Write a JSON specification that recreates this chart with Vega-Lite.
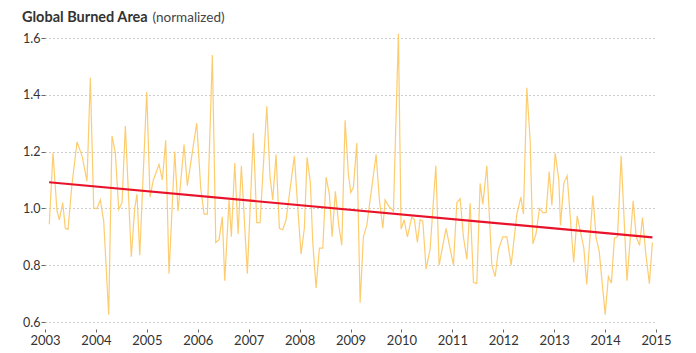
{
  "$schema": "https://vega.github.io/schema/vega-lite/v6.json",
  "width": 611,
  "height": 284,
  "autosize": "none",
  "padding": {"left": 45, "top": 38, "right": 40, "bottom": 31},
  "background": "white",
  "config": {
    "font": "Lato",
    "view": {"stroke": null},
    "title": {"font": "Lato", "fontSize": 14.5, "fontWeight": "bold", "color": "#333333"}
  },
  "title": {"text": "Global Burned Area", "anchor": "start", "frame": "group", "dx": -23, "offset": -26.5, "baseline": "alphabetic"},
  "datasets": {
    "burn": [
      {"t": 2003.084, "v": 0.944}, {"t": 2003.157, "v": 1.196}, {"t": 2003.236, "v": 0.99}, {"t": 2003.281, "v": 0.96},
      {"t": 2003.348, "v": 1.02}, {"t": 2003.399, "v": 0.93}, {"t": 2003.452, "v": 0.926}, {"t": 2003.530, "v": 1.085},
      {"t": 2003.629, "v": 1.234}, {"t": 2003.727, "v": 1.185}, {"t": 2003.825, "v": 1.096}, {"t": 2003.890, "v": 1.46},
      {"t": 2003.957, "v": 1.0}, {"t": 2004.022, "v": 1.0}, {"t": 2004.086, "v": 1.03}, {"t": 2004.153, "v": 0.955},
      {"t": 2004.251, "v": 0.626}, {"t": 2004.316, "v": 1.255}, {"t": 2004.381, "v": 1.196}, {"t": 2004.448, "v": 0.996},
      {"t": 2004.513, "v": 1.02}, {"t": 2004.578, "v": 1.29}, {"t": 2004.695, "v": 0.83}, {"t": 2004.762, "v": 1.0},
      {"t": 2004.807, "v": 1.05}, {"t": 2004.861, "v": 0.835}, {"t": 2004.998, "v": 1.41}, {"t": 2005.063, "v": 1.04},
      {"t": 2005.128, "v": 1.10}, {"t": 2005.240, "v": 1.155}, {"t": 2005.305, "v": 1.10}, {"t": 2005.371, "v": 1.24},
      {"t": 2005.436, "v": 0.77}, {"t": 2005.548, "v": 1.2}, {"t": 2005.613, "v": 0.99}, {"t": 2005.731, "v": 1.225},
      {"t": 2005.796, "v": 1.08}, {"t": 2005.862, "v": 1.16}, {"t": 2005.980, "v": 1.30}, {"t": 2006.059, "v": 1.07},
      {"t": 2006.124, "v": 0.98}, {"t": 2006.189, "v": 0.98}, {"t": 2006.287, "v": 1.54}, {"t": 2006.354, "v": 0.88},
      {"t": 2006.418, "v": 0.89}, {"t": 2006.483, "v": 0.97}, {"t": 2006.530, "v": 0.745}, {"t": 2006.615, "v": 1.03},
      {"t": 2006.660, "v": 0.90}, {"t": 2006.727, "v": 1.16}, {"t": 2006.792, "v": 0.91}, {"t": 2006.857, "v": 1.15},
      {"t": 2006.974, "v": 0.77}, {"t": 2007.092, "v": 1.265}, {"t": 2007.159, "v": 0.95}, {"t": 2007.224, "v": 0.95},
      {"t": 2007.356, "v": 1.36}, {"t": 2007.420, "v": 1.11}, {"t": 2007.473, "v": 1.03}, {"t": 2007.538, "v": 1.19},
      {"t": 2007.603, "v": 0.93}, {"t": 2007.670, "v": 0.925}, {"t": 2007.735, "v": 0.96}, {"t": 2007.898, "v": 1.185},
      {"t": 2007.965, "v": 1.0}, {"t": 2008.029, "v": 0.84}, {"t": 2008.094, "v": 0.93}, {"t": 2008.147, "v": 1.18},
      {"t": 2008.212, "v": 1.09}, {"t": 2008.259, "v": 0.88}, {"t": 2008.324, "v": 0.72}, {"t": 2008.389, "v": 0.86},
      {"t": 2008.456, "v": 0.86}, {"t": 2008.521, "v": 1.11}, {"t": 2008.585, "v": 1.05}, {"t": 2008.639, "v": 0.90},
      {"t": 2008.703, "v": 1.06}, {"t": 2008.770, "v": 0.94}, {"t": 2008.829, "v": 0.87}, {"t": 2008.894, "v": 1.31},
      {"t": 2008.959, "v": 1.12}, {"t": 2009.006, "v": 1.056}, {"t": 2009.057, "v": 1.074}, {"t": 2009.124, "v": 1.23},
      {"t": 2009.189, "v": 0.668}, {"t": 2009.253, "v": 0.9}, {"t": 2009.320, "v": 0.94}, {"t": 2009.503, "v": 1.19},
      {"t": 2009.568, "v": 1.03}, {"t": 2009.635, "v": 0.93}, {"t": 2009.680, "v": 1.03}, {"t": 2009.745, "v": 1.01},
      {"t": 2009.843, "v": 0.99}, {"t": 2009.941, "v": 1.615}, {"t": 2009.994, "v": 0.927}, {"t": 2010.053, "v": 0.96},
      {"t": 2010.118, "v": 0.9}, {"t": 2010.204, "v": 0.97}, {"t": 2010.255, "v": 0.96}, {"t": 2010.314, "v": 0.88},
      {"t": 2010.367, "v": 0.96}, {"t": 2010.420, "v": 0.955}, {"t": 2010.485, "v": 0.786}, {"t": 2010.564, "v": 0.857},
      {"t": 2010.676, "v": 1.15}, {"t": 2010.741, "v": 0.8}, {"t": 2010.813, "v": 0.87}, {"t": 2010.878, "v": 0.93},
      {"t": 2010.943, "v": 0.87}, {"t": 2011.022, "v": 0.8}, {"t": 2011.088, "v": 1.02}, {"t": 2011.153, "v": 1.034},
      {"t": 2011.218, "v": 0.9}, {"t": 2011.285, "v": 0.82}, {"t": 2011.350, "v": 1.018}, {"t": 2011.415, "v": 0.74},
      {"t": 2011.481, "v": 0.735}, {"t": 2011.546, "v": 1.088}, {"t": 2011.599, "v": 1.014}, {"t": 2011.678, "v": 1.15},
      {"t": 2011.776, "v": 0.8}, {"t": 2011.841, "v": 0.76}, {"t": 2011.906, "v": 0.855}, {"t": 2011.992, "v": 0.9},
      {"t": 2012.071, "v": 0.9}, {"t": 2012.155, "v": 0.8}, {"t": 2012.267, "v": 0.98}, {"t": 2012.346, "v": 1.04},
      {"t": 2012.397, "v": 0.98}, {"t": 2012.463, "v": 1.425}, {"t": 2012.528, "v": 1.24}, {"t": 2012.582, "v": 0.875},
      {"t": 2012.646, "v": 0.913}, {"t": 2012.711, "v": 1.0}, {"t": 2012.778, "v": 0.985}, {"t": 2012.843, "v": 0.985},
      {"t": 2012.902, "v": 1.13}, {"t": 2012.955, "v": 1.01}, {"t": 2013.020, "v": 1.195}, {"t": 2013.092, "v": 1.1},
      {"t": 2013.124, "v": 0.94}, {"t": 2013.190, "v": 1.09}, {"t": 2013.255, "v": 1.115}, {"t": 2013.383, "v": 0.81},
      {"t": 2013.452, "v": 0.974}, {"t": 2013.583, "v": 0.86}, {"t": 2013.639, "v": 0.732}, {"t": 2013.760, "v": 1.045},
      {"t": 2013.825, "v": 0.895}, {"t": 2013.884, "v": 0.85}, {"t": 2014.002, "v": 0.626}, {"t": 2014.065, "v": 0.76},
      {"t": 2014.124, "v": 0.737}, {"t": 2014.183, "v": 0.895}, {"t": 2014.244, "v": 0.9}, {"t": 2014.316, "v": 1.185},
      {"t": 2014.430, "v": 0.745}, {"t": 2014.552, "v": 1.027}, {"t": 2014.611, "v": 0.9}, {"t": 2014.676, "v": 0.87},
      {"t": 2014.735, "v": 0.968}, {"t": 2014.798, "v": 0.843}, {"t": 2014.870, "v": 0.735}, {"t": 2014.929, "v": 0.88}
    ],
    "trend": [
      {"t": 2003.08, "v": 1.092},
      {"t": 2014.93, "v": 0.898}
    ]
  },
  "encoding": {
    "x": {
      "field": "t", "type": "quantitative",
      "scale": {"domain": [2003, 2015], "nice": false, "zero": false},
      "axis": {
        "values": [2003, 2004, 2005, 2006, 2007, 2008, 2009, 2010, 2011, 2012, 2013, 2014, 2015],
        "format": "d", "title": null, "grid": false, "domain": false,
        "ticks": true, "tickSize": 3, "tickColor": "#666666", "offset": 7,
        "labelFontSize": 13, "labelColor": "#333333", "labelPadding": 2, "labelFlush": false, "labelFont": "Lato"
      }
    },
    "y": {
      "field": "v", "type": "quantitative",
      "scale": {"domain": [0.6, 1.6], "nice": false, "zero": false},
      "axis": {
        "values": [0.6, 0.8, 1.0, 1.2, 1.4, 1.6],
        "format": ".1f", "grid": true, "gridDash": [1, 3], "gridColor": "#9a9a9a", "gridWidth": 1,
        "domain": false, "tickSize": 4, "tickColor": "#666666", "labelPadding": 1,
        "labelFontSize": 12.5, "labelColor": "#333333", "labelFont": "Lato",
        "title": "(normalized)", "titleAngle": 0, "titleAlign": "left", "titleBaseline": "alphabetic",
        "titleX": 107, "titleY": -17, "titleFont": "Lato", "titleFontSize": 13.5, "titleFontWeight": "normal", "titleColor": "#444444"
      }
    }
  },
  "layer": [
    {
      "data": {"name": "burn"},
      "mark": {"type": "line", "color": "#fdc966", "strokeWidth": 1.2, "opacity": 0.95}
    },
    {
      "data": {"name": "trend"},
      "mark": {"type": "line", "color": "#e8132b", "strokeWidth": 2.2}
    }
  ]
}
